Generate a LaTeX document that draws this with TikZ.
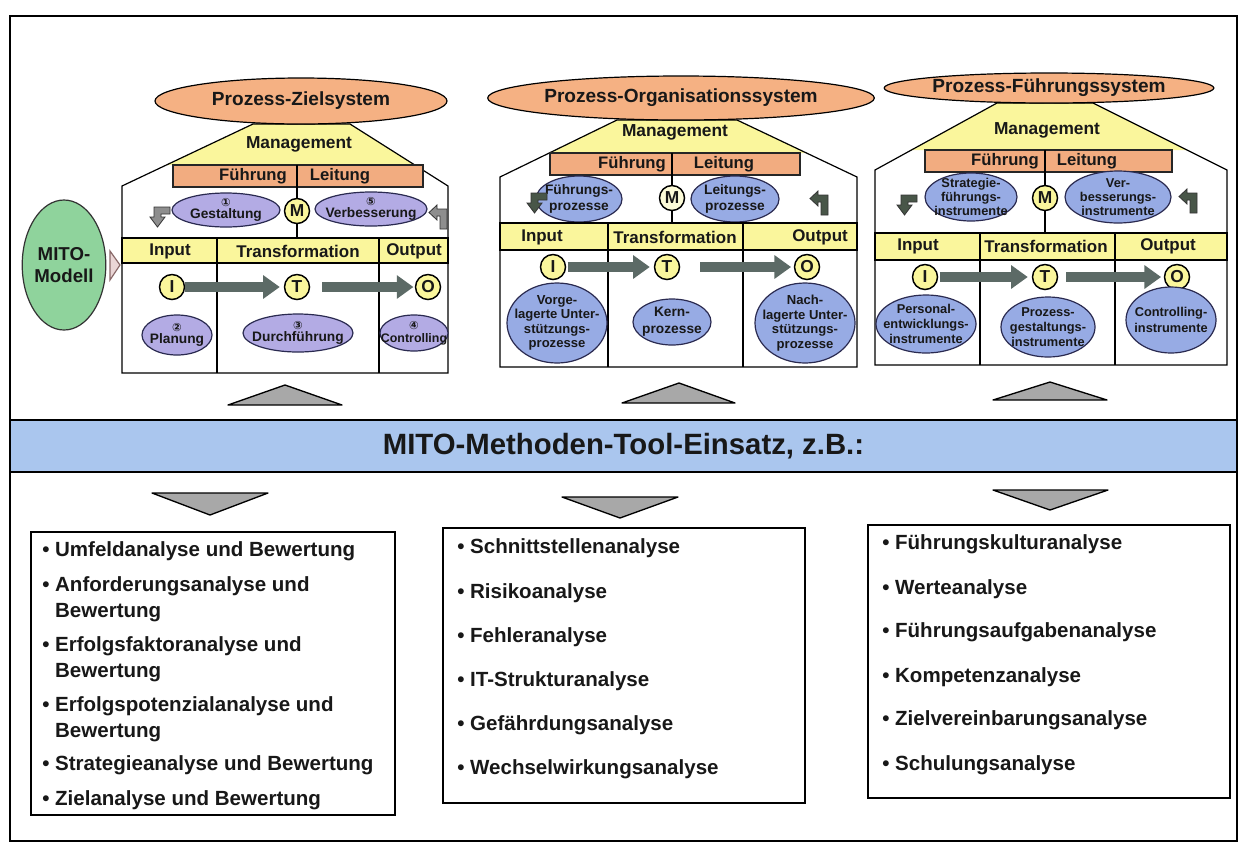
\documentclass[tikz,border=0pt]{standalone}
\usepackage{fontspec}
\setmainfont{Liberation Sans}
\newfontfamily\djv{DejaVu Sans}
\usetikzlibrary{shapes.geometric,arrows.meta}
\definecolor{txt}{HTML}{181818}
\definecolor{orgF}{HTML}{F5B183}
\definecolor{barF}{HTML}{F2AC80}
\definecolor{yel}{HTML}{FAF69C}
\definecolor{lyel}{HTML}{FCFBD8}
\definecolor{lavL}{HTML}{B3ABE4}
\definecolor{bluP}{HTML}{97ABE4}
\definecolor{navy}{HTML}{2A2A50}
\definecolor{grn}{HTML}{8FD39C}
\definecolor{arrowC}{HTML}{5C6A66}
\definecolor{bentG}{HTML}{8E8E8E}
\definecolor{bentD}{HTML}{485648}
\definecolor{triF}{HTML}{A8A8A8}
\definecolor{bandF}{HTML}{AAC6EE}
\definecolor{pinkF}{HTML}{EAD6D6}
\definecolor{pinkD}{HTML}{8A6A6A}
\newcommand\cnum[1]{{\djv\fontsize{8.5}{8.5}\selectfont #1}}
\newcommand\bentDown[2]{\filldraw[#2] #1 -- ++(-16,0) -- ++(0,10) -- ++(-4,0) -- ++(7.5,10) -- ++(7.5,-10) -- ++(-4,0) -- ++(0,-3) -- ++(9,0) -- cycle;}
\newcommand\bentLeft[2]{\filldraw[#2] #1 -- ++(0,-20) -- ++(-10,0) -- ++(0,-4) -- ++(-8,7.5) -- ++(8,7.5) -- ++(0,-4) -- ++(3,0) -- ++(0,13) -- cycle;}
% #1 fill style, #2 name, #3 position, #4 width, #5 height, #6 font size, #7 baselineskip, #8 text
\newcommand\procnode[8]{%
  \node[procshape, #1, sz={#4}{#5}] (#2) at #3 {};
  \node[ptxt, font=\bfseries\fontsize{#6}{#7}\selectfont] (#2t) at (#2) {#8};}
\tikzset{
  sz/.style 2 args={minimum width={#1*0.75pt},minimum height={#2*0.75pt}},
  hdr/.style={ellipse, draw=black, line width=0.9pt, fill=orgF, inner sep=0pt, text=txt, font=\bfseries\fontsize{14.3}{16}\selectfont},
  procshape/.style={ellipse, draw=navy, line width=0.9pt, inner sep=0pt},
  lav/.style={fill=lavL},
  blu/.style={fill=bluP},
  ptxt/.style={inner sep=0pt, align=center, text=txt},
  letter/.style={circle, draw=black, line width=1.1pt, fill=yel, minimum size={25*0.75pt}, inner sep=0pt, text=txt, font=\bfseries\fontsize{13}{13}\selectfont},
  flow/.style={line width=7.5pt, draw=arrowC, -{Triangle[length=12.5pt,width=17pt]}},
  house/.style={draw=black, line width=0.9pt},
  lbl/.style={inner sep=0pt, text=txt, font=\bfseries\fontsize{12.7}{13}\selectfont},
  mgmt/.style={inner sep=0pt, text=txt, font=\bfseries\fontsize{13}{13}\selectfont},
  barlbl/.style={inner sep=0pt, text=txt, font=\bfseries\fontsize{12.5}{13}\selectfont},
  tri/.style={fill=triF, draw=black, line width=1pt, line join=round},
  bentL/.style={fill=bentG, draw=black!80, line width=0.6pt},
  bentR/.style={fill=bentD, draw=black!80, line width=0.6pt},
  item/.style={anchor=west, inner sep=0pt, align=left, text=txt, font=\bfseries\fontsize{15.4}{19.5}\selectfont},
  box/.style={draw=black, line width=1.2pt, inner sep=0pt}
}
\begin{document}
\begin{tikzpicture}[x=0.75pt,y=-0.75pt]
\useasboundingbox (0,0) rectangle (1244,847);
\fill[white] (0,0) rectangle (1244,847);
\draw[line width=2.2pt] (10,16) rectangle (1237,841);

% ================= LEFT HOUSE =================
\fill[yel] (253,124) -- (350,124) -- (415,165) -- (166,165) -- cycle;
\draw[house] (122,373) -- (122,186) -- (253,124) -- (350,124) -- (448,186) -- (448,373) -- cycle;
\node[hdr, sz={292}{46}] (zL) at (301,101) {Prozess-Zielsystem};
\node[mgmt] (mgL) at (299,144) {Management};
\filldraw[fill=barF, draw=black!85, line width=0.8pt] (173,165) rectangle (423,187);
\node[barlbl] (fuL) at (253,176) {Führung};
\node[barlbl] (leL) at (340,176) {Leitung};
\coordinate (dLt) at (297,165);
\coordinate (dLb) at (297,238);
\draw[house] (dLt) -- (dLb);
\node[letter] (mL) at (297,211) {M};
\procnode{lav}{gL}{(226,210)}{108}{34}{10.3}{9.5}{\cnum{①}\\Gestaltung}
\procnode{lav}{vL}{(371,209)}{112}{34}{10.3}{9.5}{\cnum{⑤}\\Verbesserung}
\bentDown{(170,207)}{bentL}
\bentLeft{(447,229)}{bentL}
\filldraw[fill=yel, draw=black, line width=0.9pt] (122,238) rectangle (448,263);
\draw[house] (217,238) -- (217,373);
\draw[house] (379,238) -- (379,373);
\node[lbl] (inL) at (170,251) {Input};
\node[lbl] (trL) at (298,251) {Transformation};
\node[lbl] (ouL) at (414,251) {Output};
\node[letter] (IL) at (172,287) {I};
\node[letter] (TL) at (297,287) {T};
\node[letter] (OL) at (428,287) {O};
\draw[flow, shorten <=0pt, shorten >=3pt] (IL) -- (TL);
\draw[flow, shorten <=9pt, shorten >=1pt] (TL) -- (OL);
\procnode{lav}{pL}{(177,335)}{70}{40}{10.3}{9.5}{\cnum{②}\\Planung}
\procnode{lav}{dL}{(298,333)}{110}{38}{10.3}{9.5}{\cnum{③}\\Durchführung}
\procnode{lav}{cL}{(414,333)}{68}{36}{9.3}{9.5}{\cnum{④}\\Controlling}

% MITO-Modell
\node[ellipse, draw=black!80, line width=0.9pt, fill=grn, sz={78}{130}, inner sep=0pt, align=center, text=txt, font=\bfseries\fontsize{14}{16}\selectfont] (mito) at (64,265) {MITO-\\Modell};
\filldraw[fill=pinkF, draw=pinkD, line width=0.9pt] (110,251) -- (120,265) -- (110,280) -- cycle;

% ================= MIDDLE HOUSE =================
\fill[yel] (617,120) -- (737,120) -- (806,153) -- (549,153) -- cycle;
\draw[house] (500,367) -- (500,177) -- (617,120) -- (737,120) -- (857,177) -- (857,367) -- cycle;
\node[hdr, sz={316}{44}] (zM) at (681,98) {Prozess-Organisationssystem};
\node[mgmt] (mgM) at (675,132) {Management};
\filldraw[fill=barF, draw=black!85, line width=0.8pt] (550,153) rectangle (800,175);
\node[barlbl] (fuM) at (632,164) {Führung};
\node[barlbl] (leM) at (724,164) {Leitung};
\coordinate (dMt) at (672,153);
\coordinate (dMb) at (672,223);
\draw[house] (dMt) -- (dMb);
\node[letter, fill=lyel] (mM) at (672,198) {M};
\procnode{blu}{fpM}{(579,199)}{86}{46}{10.3}{12.5}{Führungs-\\prozesse}
\procnode{blu}{lpM}{(735,199)}{88}{46}{10.3}{12.5}{Leitungs-\\prozesse}
\bentDown{(547,193)}{bentR}
\bentLeft{(828,215)}{bentR}
\filldraw[fill=yel, draw=black, line width=0.9pt] (500,223) rectangle (857,250);
\draw[house] (608,223) -- (608,367);
\draw[house] (743,223) -- (743,367);
\node[lbl] (inM) at (542,237) {Input};
\node[lbl] (trM) at (675,237) {Transformation};
\node[lbl] (ouM) at (820,237) {Output};
\node[letter] (IM) at (553,267) {I};
\node[letter] (TM) at (667,267) {T};
\node[letter] (OM) at (807,267) {O};
\draw[flow, shorten <=1pt, shorten >=3pt] (IM) -- (TM);
\draw[flow, shorten <=15pt, shorten >=2pt] (TM) -- (OM);
\procnode{blu}{vuM}{(557,323)}{100}{80}{9.8}{10.9}{Vorge-\\lagerte Unter-\\stützungs-\\prozesse}
\procnode{blu}{kpM}{(672,322)}{78}{46}{10.3}{12.5}{Kern-\\prozesse}
\procnode{blu}{nuM}{(805,323)}{100}{80}{9.8}{10.9}{Nach-\\lagerte Unter-\\stützungs-\\prozesse}

% ================= RIGHT HOUSE =================
\fill[yel] (997,103) -- (1093,103) -- (1187,150) -- (911,150) -- cycle;
\draw[house] (875,365) -- (875,170) -- (997,103) -- (1093,103) -- (1227,170) -- (1227,365) -- cycle;
\node[hdr, sz={274}{30}] (zR) at (1049,88) {Prozess-Führungssystem};
\node[mgmt] (mgR) at (1047,130) {Management};
\filldraw[fill=barF, draw=black!85, line width=0.8pt] (925,150) rectangle (1172,172);
\node[barlbl] (fuR) at (1005,161) {Führung};
\node[barlbl] (leR) at (1087,161) {Leitung};
\coordinate (dRt) at (1045,150);
\coordinate (dRb) at (1045,233);
\draw[house] (dRt) -- (dRb);
\node[letter] (mR) at (1045,198) {M};
\procnode{blu}{sfR}{(971,197)}{92}{48}{9.6}{10.5}{Strategie-\\führungs-\\instrumente}
\procnode{blu}{vbR}{(1118,197)}{106}{52}{9.6}{10.5}{Ver-\\besserungs-\\instrumente}
\bentDown{(917,195)}{bentR}
\bentLeft{(1197,213)}{bentR}
\filldraw[fill=yel, draw=black, line width=0.9pt] (875,233) rectangle (1227,260);
\draw[house] (980,233) -- (980,365);
\draw[house] (1115,233) -- (1115,365);
\node[lbl] (inR) at (918,246) {Input};
\node[lbl] (trR) at (1046,246) {Transformation};
\node[lbl] (ouR) at (1168,246) {Output};
\node[letter] (IR) at (925,277) {I};
\node[letter] (TR) at (1045,277) {T};
\node[letter] (OR) at (1177,277) {O};
\draw[flow, shorten <=1pt, shorten >=3pt] (IR) -- (TR);
\draw[flow, shorten <=6pt, shorten >=2pt] (TR) -- (OR);
\procnode{blu}{peR}{(926,324)}{100}{58}{9.6}{11.5}{Personal-\\entwicklungs-\\instrumente}
\procnode{blu}{pgR}{(1048,327)}{94}{60}{9.6}{11.5}{Prozess-\\gestaltungs-\\instrumente}
\procnode{blu}{ciR}{(1171,320)}{90}{66}{9.6}{11.5}{Controlling-\\instrumente}

% ================= TRIANGLES & BAND =================
\draw[tri] (228,405) -- (285,385) -- (342,405) -- cycle;
\draw[tri] (622,403) -- (679,383) -- (735,403) -- cycle;
\draw[tri] (993,400) -- (1050,382) -- (1107,400) -- cycle;
\node[draw=black, line width=1pt, fill=bandF, sz={1227}{52}, inner sep=0pt, text=txt, font=\bfseries\fontsize{22}{24}\selectfont] (band) at (623.5,446) {MITO-Methoden-Tool-Einsatz, z.B.:};
\draw[tri] (152,493) -- (268,493) -- (210,515) -- cycle;
\draw[tri] (562,497) -- (678,497) -- (620,518) -- cycle;
\draw[tri] (993,490) -- (1108,490) -- (1050,510) -- cycle;

% ================= BOXES =================
\node[box, sz={364}{283}] (boxL) at (213,673.5) {};
\node[box, sz={362}{275}] (boxM) at (624,665.5) {};
\node[box, sz={362}{273}] (boxR) at (1049,661.5) {};

\node[item] (l1) at (42,551) {\textbullet\ Umfeldanalyse und Bewertung};
\node[item] (l2) at (42,599) {\textbullet\ Anforderungsanalyse und\\\phantom{\textbullet\ }Bewertung};
\node[item] (l3) at (42,659) {\textbullet\ Erfolgsfaktoranalyse und\\\phantom{\textbullet\ }Bewertung};
\node[item] (l4) at (42,719) {\textbullet\ Erfolgspotenzialanalyse und\\\phantom{\textbullet\ }Bewertung};
\node[item] (l5) at (42,765) {\textbullet\ Strategieanalyse und Bewertung};
\node[item] (l6) at (42,800) {\textbullet\ Zielanalyse und Bewertung};

\node[item] (m1) at (457,548) {\textbullet\ Schnittstellenanalyse};
\node[item] (m2) at (457,593) {\textbullet\ Risikoanalyse};
\node[item] (m3) at (457,637) {\textbullet\ Fehleranalyse};
\node[item] (m4) at (457,681) {\textbullet\ IT-Strukturanalyse};
\node[item] (m5) at (457,725) {\textbullet\ Gefährdungsanalyse};
\node[item] (m6) at (457,769) {\textbullet\ Wechselwirkungsanalyse};

\node[item] (r1) at (882,544) {\textbullet\ Führungskulturanalyse};
\node[item] (r2) at (882,589) {\textbullet\ Werteanalyse};
\node[item] (r3) at (882,632) {\textbullet\ Führungsaufgabenanalyse};
\node[item] (r4) at (882,677) {\textbullet\ Kompetenzanalyse};
\node[item] (r5) at (882,720) {\textbullet\ Zielvereinbarungsanalyse};
\node[item] (r6) at (882,765) {\textbullet\ Schulungsanalyse};
\end{tikzpicture}
\end{document}
